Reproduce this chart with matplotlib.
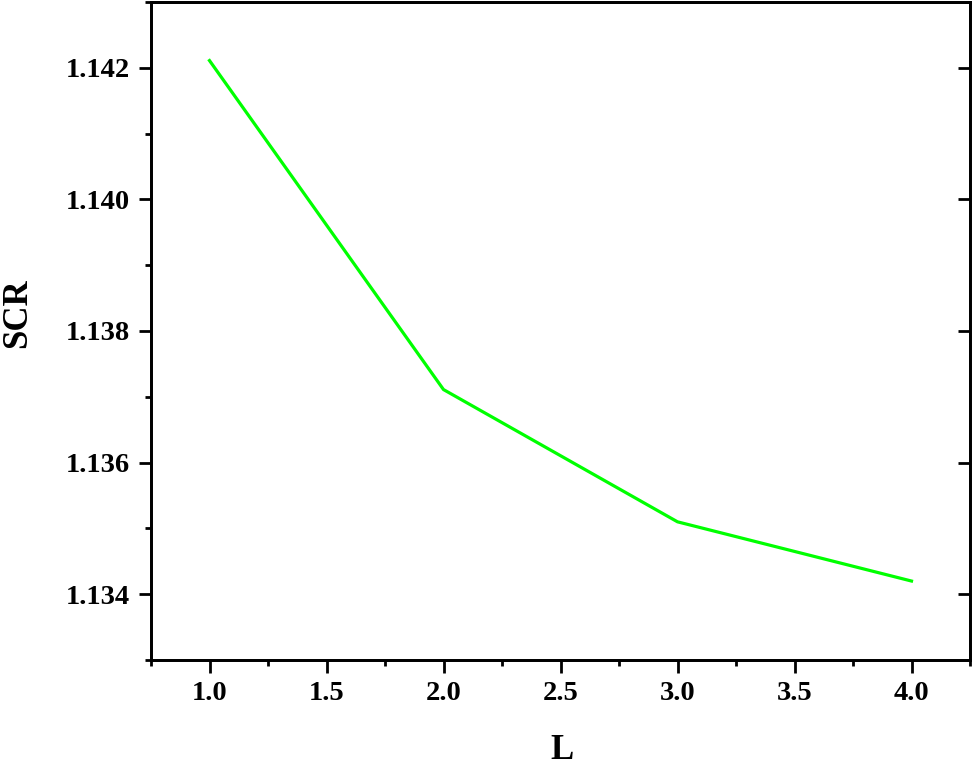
import matplotlib.pyplot as plt
from matplotlib.ticker import MultipleLocator, FormatStrFormatter

L = [1.0, 2.0, 3.0, 4.0]
scr = [1.14211, 1.13711, 1.13510, 1.13420]

plt.rcParams['font.family'] = ['Liberation Serif', 'DejaVu Serif']
plt.rcParams['font.weight'] = 'bold'

fig = plt.figure(figsize=(9.72, 7.70), dpi=100)
ax = fig.add_axes([151 / 972, 110 / 770, 819 / 972, 658 / 770])

ax.plot(L, scr, color='#00ff00', linewidth=2.3)

ax.set_xlim(0.75, 4.25)
ax.set_ylim(1.133, 1.143)
ax.xaxis.set_major_locator(MultipleLocator(0.5))
ax.xaxis.set_minor_locator(MultipleLocator(0.25))
ax.yaxis.set_major_locator(MultipleLocator(0.002))
ax.yaxis.set_minor_locator(MultipleLocator(0.001))
ax.xaxis.set_major_formatter(FormatStrFormatter('%.1f'))
ax.yaxis.set_major_formatter(FormatStrFormatter('%.3f'))

for sp in ax.spines.values():
    sp.set_linewidth(2.0)

ax.tick_params(which='major', direction='out', length=9, width=2.0,
               labelsize=20.5, pad=6)
ax.tick_params(which='minor', direction='out', length=4.5, width=2.0)
ax.tick_params(top=False, right=False)

# right side: major ticks pointing inward, no labels
ax2 = ax.twinx()
ax2.set_ylim(ax.get_ylim())
ax2.yaxis.set_major_locator(MultipleLocator(0.002))
ax2.tick_params(which='major', direction='in', length=9, width=2.0,
                labelright=False)
ax2.tick_params(which='minor', right=False)
for sp in ax2.spines.values():
    sp.set_linewidth(2.0)

ax.set_xlabel('L', fontsize=25, fontweight='bold')
ax.set_ylabel('SCR', fontsize=25, fontweight='bold')
ax.xaxis.set_label_coords(0.502, -0.112)
ax.yaxis.set_label_coords(-0.143, 0.527)

fig.savefig('out.png', dpi=100)
